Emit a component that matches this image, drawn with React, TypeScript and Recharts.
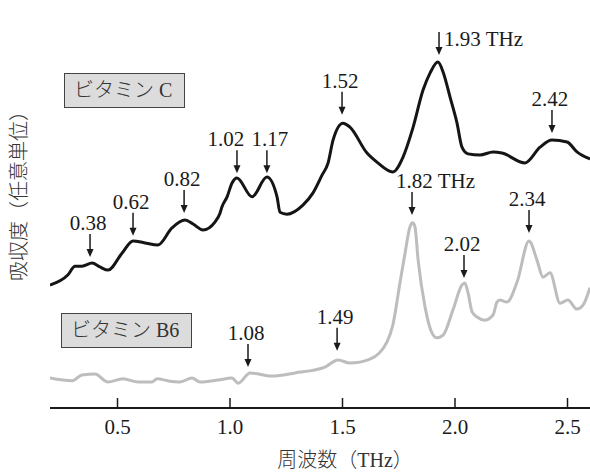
import React from "react";
import { LineChart, Line, XAxis, YAxis, ReferenceDot } from "recharts";

// ビタミン C spectrum (frequency THz, absorbance a.u.)
const freqC = [
  0.2, 0.28, 0.311, 0.342, 0.387, 0.422, 0.458, 0.52, 0.569, 0.622, 0.68, 0.742, 0.8, 0.836,
  0.88, 0.933, 0.956, 0.964, 0.987, 1.009, 1.031, 1.098, 1.164, 1.209, 1.222, 1.253, 1.324,
  1.369, 1.409, 1.436, 1.458, 1.502, 1.533, 1.609, 1.653, 1.724, 1.769, 1.813, 1.858, 1.889,
  1.924, 1.947, 1.978, 2.009, 2.031, 2.058, 2.111, 2.169, 2.209, 2.311, 2.378, 2.431, 2.498,
  2.542, 2.6,
];
const absC = [
  31.2, 33.8, 36.0, 36.0, 36.8, 35.8, 35.0, 39.3, 42.4, 41.9, 41.4, 45.7, 47.7, 46.7, 45.2,
  47.2, 49.5, 51.0, 53.6, 57.1, 58.4, 53.6, 58.6, 53.6, 49.7, 49.2, 51.5, 54.6, 59.1, 62.2,
  68.0, 72.3, 71.3, 64.7, 62.4, 59.9, 63.7, 71.1, 80.7, 85.0, 87.8, 85.3, 78.9, 72.3, 66.2,
  64.5, 64.2, 65.0, 64.7, 62.2, 66.2, 68.0, 67.5, 65.0, 63.2,
];

// ビタミン B6 spectrum
const freqB6 = [
  0.2, 0.298, 0.342, 0.4, 0.458, 0.524, 0.591, 0.653, 0.676, 0.724, 0.778, 0.831, 0.867, 0.947,
  1.009, 1.036, 1.089, 1.187, 1.289, 1.422, 1.48, 1.533, 1.622, 1.698, 1.724, 1.756, 1.778,
  1.8, 1.811, 1.822, 1.836, 1.867, 1.898, 1.92, 1.947, 1.991, 2.031, 2.044, 2.058, 2.076, 2.098,
  2.133, 2.169, 2.187, 2.2, 2.231, 2.276, 2.329, 2.364, 2.391, 2.422, 2.467, 2.502, 2.542,
  2.569, 2.6,
];
const absB6 = [
  7.6, 6.9, 8.4, 8.6, 6.6, 7.4, 6.6, 6.6, 7.4, 6.9, 6.6, 7.6, 6.6, 7.1, 7.6, 6.3, 8.9, 8.1,
  8.9, 10.4, 12.2, 11.4, 12.4, 16.8, 21.1, 32.0, 39.3, 46.0, 47.0, 46.0, 37.6, 25.6, 19.0, 17.8,
  18.5, 24.9, 31.2, 31.7, 29.2, 24.4, 23.1, 22.3, 23.6, 26.9, 27.4, 26.9, 32.0, 42.4, 37.6,
  33.2, 34.3, 26.6, 27.4, 25.1, 26.1, 30.5,
];

// peak markers: where the arrow points, and its label
const peakFreqC = [0.378, 0.569, 0.796, 1.031, 1.164, 1.498, 1.929, 2.431];
const peakAbsC = [38.3, 43.7, 49.5, 59.6, 59.6, 74.4, 89.6, 69.8];
const peakLabelC = ["0.38", "0.62", "0.82", "1.02", "1.17", "1.52", "1.93 THz", "2.42"];

const peakFreqB6 = [1.08, 1.476, 1.809, 2.04, 2.329];
const peakAbsB6 = [10.4, 14.5, 49.0, 33.0, 44.4];
const peakLabelB6 = ["1.08", "1.49", "1.82 THz", "2.02", "2.34"];

const xTicks = [0.5, 1.0, 1.5, 2.0, 2.5];

const SERIF = "'Liberation Serif', 'Noto Sans CJK JP', serif";

const dataC = freqC.map((f, i) => ({ f, v: absC[i] }));
const dataB6 = freqB6.map((f, i) => ({ f, v: absB6[i] }));
const marks = [
  ...peakFreqC.map((f, i) => ({ f, v: peakAbsC[i], label: peakLabelC[i] })),
  ...peakFreqB6.map((f, i) => ({ f, v: peakAbsB6[i], label: peakLabelB6[i] })),
];

const ARROW = 23;
// the two close peaks get their labels pushed apart
const LABEL_SHIFT: Record<string, number> = { "1.02": -9, "1.17": 5 };

function Arrow({ cx, cy, label }: { cx: number; cy: number; label: string }) {
  const top = cy - ARROW;
  let text;
  if (label === "1.93 THz") {
    text = (
      <text x={cx + 5} y={top + 14} textAnchor="start">
        {label}
      </text>
    );
  } else if (label.endsWith("THz")) {
    text = (
      <text x={cx - 16} y={top - 4} textAnchor="start">
        {label}
      </text>
    );
  } else {
    text = (
      <text x={cx - 2 + (LABEL_SHIFT[label] ?? 0)} y={top - 4} textAnchor="middle">
        {label}
      </text>
    );
  }
  return (
    <g fontFamily={SERIF} fontSize={21} fill="#1a1a1a">
      <line x1={cx} x2={cx} y1={top} y2={cy - 6} stroke="#1a1a1a" strokeWidth={1.5} />
      <polygon points={`${cx - 3.5},${cy - 8} ${cx + 3.5},${cy - 8} ${cx},${cy}`} fill="#1a1a1a" />
      {text}
    </g>
  );
}

function InnerTick(props: any) {
  const { x, y, payload } = props;
  return (
    <g>
      <line x1={x} x2={x} y1={y} y2={y - 10} stroke="#1a1a1a" strokeWidth={1.5} />
      <text x={x} y={y + 26} textAnchor="middle" fontFamily={SERIF} fontSize={21} fill="#1a1a1a">
        {Number(payload.value).toFixed(1)}
      </text>
    </g>
  );
}

const boxStyle: React.CSSProperties = {
  position: "absolute",
  height: 35,
  boxSizing: "border-box",
  border: "1.5px solid #444",
  background: "#dcdcdc",
  color: "#333",
  fontFamily: SERIF,
  fontSize: 20,
  fontWeight: 300,
  lineHeight: "32px",
  paddingLeft: 9,
  whiteSpace: "nowrap",
};

export default function App() {
  return (
    <div style={{ position: "absolute", left: 0, top: 0, width: 590, height: 472, background: "#fff" }}>
      <LineChart width={590} height={472} data={dataC} margin={{ top: 14, right: 0, bottom: 34, left: 50 }}>
        <XAxis
          type="number"
          dataKey="f"
          domain={[0.2, 2.6]}
          ticks={xTicks}
          allowDataOverflow
          height={30}
          tickSize={0}
          tickMargin={0}
          tickLine={false}
          tick={<InnerTick />}
          axisLine={{ stroke: "#1a1a1a", strokeWidth: 2 }}
        />
        <YAxis
          type="number"
          domain={[0, 100]}
          width={0}
          tick={false}
          tickLine={false}
          axisLine={{ stroke: "#1a1a1a", strokeWidth: 2 }}
        />
        <Line
          data={dataB6}
          dataKey="v"
          type="monotone"
          stroke="#bdbdbd"
          strokeWidth={3}
          dot={false}
          isAnimationActive={false}
        />
        <Line
          data={dataC}
          dataKey="v"
          type="monotone"
          stroke="#151515"
          strokeWidth={3}
          dot={false}
          isAnimationActive={false}
        />
        {marks.map((m) => (
          <ReferenceDot
            key={m.label}
            x={m.f}
            y={m.v}
            r={0}
            ifOverflow="visible"
            shape={(p: any) => <Arrow cx={p.cx} cy={p.cy} label={m.label} />}
          />
        ))}
      </LineChart>
      <div style={{ ...boxStyle, left: 64, top: 73, width: 121 }}>ビタミン C</div>
      <div style={{ ...boxStyle, left: 61, top: 313, width: 131 }}>ビタミン B6</div>
      <div
        style={{
          position: "absolute",
          left: 19 - 110,
          top: 191 - 12,
          width: 220,
          height: 24,
          lineHeight: "24px",
          textAlign: "center",
          transform: "rotate(-90deg)",
          fontFamily: SERIF,
          fontSize: 20,
          fontWeight: 300,
          color: "#333",
          whiteSpace: "nowrap",
        }}
      >
        吸収度（任意単位）
      </div>
      <div
        style={{
          position: "absolute",
          left: 345 - 110,
          top: 448,
          width: 220,
          height: 24,
          lineHeight: "24px",
          textAlign: "center",
          fontFamily: SERIF,
          fontSize: 20,
          fontWeight: 300,
          color: "#333",
          whiteSpace: "nowrap",
        }}
      >
        周波数（THz）
      </div>
    </div>
  );
}
